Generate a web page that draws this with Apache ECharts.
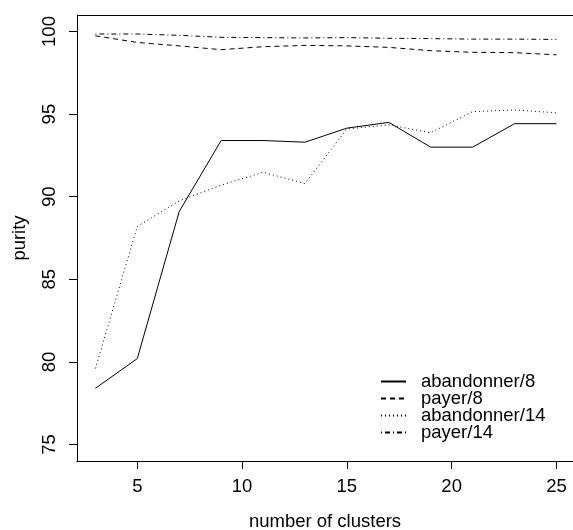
<!DOCTYPE html>
<html>
<head>
<meta charset="utf-8">
<script src="https://cdn.jsdelivr.net/npm/echarts@6/dist/echarts.min.js"></script>
<style>html,body{margin:0;padding:0;background:#fff;overflow:hidden}#c{width:100vw;height:100vh}</style>
</head>
<body>
<div id="c"></div>
<script>
const clusters = [3, 5, 7, 9, 11, 13, 15, 17, 19, 21, 23, 25];
const abandonner8 = [78.4, 80.2, 89.1, 93.4, 93.4, 93.3, 94.15, 94.5, 93.0, 93.0, 94.42, 94.42];
const payer8 = [99.74, 99.34, 99.13, 98.9, 99.08, 99.16, 99.13, 99.04, 98.84, 98.74, 98.72, 98.59];
const abandonner14 = [79.6, 88.2, 89.75, 90.7, 91.48, 90.8, 94.1, 94.35, 93.87, 95.15, 95.25, 95.08];
const payer14 = [99.85, 99.85, 99.77, 99.65, 99.63, 99.61, 99.63, 99.59, 99.57, 99.54, 99.54, 99.52];
const xTicks = [5, 10, 15, 20, 25];
const yTicks = [75, 80, 85, 90, 95, 100];
const seriesNames = ['abandonner/8', 'payer/8', 'abandonner/14', 'payer/14'];

const FONT = '"Liberation Sans", Arial, Helvetica, sans-serif';
const pairs = arr => clusters.map((x, i) => [x, arr[i]]);
const dashes = ['solid', [5, 4], [1, 3], [1, 3, 5, 3]];
const datas = [abandonner8, payer8, abandonner14, payer14];

const chart = echarts.init(document.getElementById('c'), null, {renderer: 'canvas'});
chart.setOption({
  animation: false,
  backgroundColor: '#fff',
  textStyle: {fontFamily: FONT},
  grid: {left: 77, right: 0, top: 15, bottom: 69, show: false, containLabel: false, outerBoundsMode: 'none'},
  legend: {
    orient: 'vertical', left: 375, top: 367, padding: 5,
    itemWidth: 25, itemHeight: 10, itemGap: -2,
    itemStyle: {color: 'transparent', borderWidth: 0, opacity: 0},
    textStyle: {fontFamily: FONT, fontSize: 18.5, color: '#000', lineHeight: 17, padding: [0, 0, 0, 10]},
    data: seriesNames.map(n => ({name: n}))
  },
  xAxis: {
    type: 'value', min: 2.123, max: 25.79,
    name: 'number of clusters', nameLocation: 'middle', nameGap: 51,
    nameTextStyle: {fontFamily: FONT, fontSize: 18.5, color: '#000'},
    axisLine: {show: true, onZero: false, lineStyle: {color: '#000', width: 1}},
    axisTick: {show: true, length: 8, lineStyle: {color: '#000'}, customValues: xTicks},
    axisLabel: {fontFamily: FONT, fontSize: 18.5, color: '#000', margin: 16, customValues: xTicks},
    splitLine: {show: false}
  },
  yAxis: [{
    type: 'value', min: 74, max: 101,
    name: 'purity', nameLocation: 'middle', nameGap: 48, nameRotate: 90,
    nameTextStyle: {fontFamily: FONT, fontSize: 18.5, color: '#000'},
    axisLine: {show: true, onZero: false, lineStyle: {color: '#000', width: 1}},
    axisTick: {show: true, length: 8, lineStyle: {color: '#000'}, customValues: yTicks},
    axisLabel: {fontFamily: FONT, fontSize: 18.5, color: '#000', margin: 18, rotate: 90, customValues: yTicks},
    splitLine: {show: false}
  }, {
    type: 'value', min: 74, max: 101, position: 'right',
    axisLine: {show: false}, axisTick: {show: false}, axisLabel: {show: false},
    splitLine: {show: true, showMinLine: false, lineStyle: {color: '#000', width: 1}},
    interval: 27
  }],
  series: seriesNames.map((n, i) => ({
    name: n, type: 'line', data: pairs(datas[i]),
    xAxisIndex: 0, yAxisIndex: 0,
    symbol: 'none', showSymbol: false,
    lineStyle: {color: '#000', width: 1, type: dashes[i]},
    itemStyle: {color: '#000'}
  }))
});
</script>
</body>
</html>
